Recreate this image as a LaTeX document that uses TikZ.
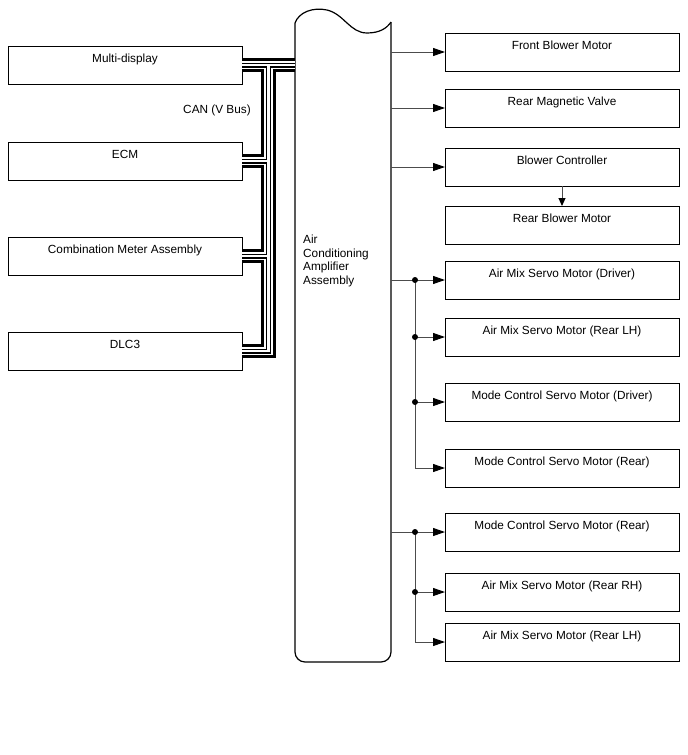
\documentclass[tikz,border=0pt]{standalone}
\usepackage{fontspec}
\setmainfont{Liberation Sans}
\usetikzlibrary{arrows.meta}
\newcommand\canbuspath[1]{%
  \draw[#1] (md.east) -- (md.east -| amp.west)
            (busTop) -- (busBot) -- (dlc.east)
            (ecm.east) -- (ecm.east -| busTop)
            (cma.east) -- (cma.east -| busTop);}
\begin{document}
\begin{tikzpicture}[x=1pt,y=-1pt,
  txt/.style={font=\fontsize{11.8}{13.8}\selectfont, inner sep=0pt},
  box/.style={draw=black, line width=1pt, minimum width=234pt, minimum height=38pt,
    inner sep=0pt, outer sep=0pt, anchor=north west, text height=16.5pt, text depth=21.5pt,
    font=\fontsize{11.8}{13.8}\selectfont},
  conn/.style={draw=black!70, line width=1pt, -{Triangle[length=12pt,width=8pt,color=black]}},
  dot/.style={fill=black}
]
\useasboundingbox (0,0) rectangle (688,755);
\fill[white] (0,0) rectangle (688,755);

% Amplifier (frame node)
\node[draw=none, minimum width=96pt, minimum height=640pt, inner sep=0pt, outer sep=0pt,
      anchor=north west] (amp) at (295,22) {};
\draw[line width=1.2pt, rounded corners=10pt]
  (295,23) -- (295,662) -- (391,662) -- (391,22);
\draw[line width=1.2pt]
  (295,23) .. controls (299,12) and (313,7) .. (327,10)
           .. controls (344,14) and (350,33) .. (367,33)
           .. controls (380,33) and (387,28) .. (391,22);
\node[txt, align=left, anchor=west] (amptxt) at (303,261)
  {Air\\Conditioning\\Amplifier\\Assembly};

% Left boxes
\node[box] (md)  at (8,46)  {Multi-display};
\node[box] (ecm) at (8,142) {ECM};
\node[box] (cma) at (8,237) {Combination Meter Assembly};
\node[box] (dlc) at (8,332) {DLC3};
\node[txt] (canlbl) at (217,110) {CAN (V Bus)};

% CAN bus
\coordinate (busTop) at (268.5,65);
\coordinate (busBot) at (268.5,351);
\canbuspath{line width=14.5pt, black}
\canbuspath{line width=8.5pt, white}
\canbuspath{line width=5pt, black}
\canbuspath{line width=2.5pt, white}

% Right boxes
\node[box] (fbm)  at (445,33)  {Front Blower Motor};
\node[box] (rmv)  at (445,89)  {Rear Magnetic Valve};
\node[box] (bc)   at (445,148) {Blower Controller};
\node[box] (rbm)  at (445,206) {Rear Blower Motor};
\node[box] (amd)  at (445,261) {Air Mix Servo Motor (Driver)};
\node[box] (amlA) at (445,318) {Air Mix Servo Motor (Rear LH)};
\node[box] (mcd)  at (445,383) {Mode Control Servo Motor (Driver)};
\node[box] (mcrA) at (445,449) {Mode Control Servo Motor (Rear)};
\node[box] (mcrB) at (445,513) {Mode Control Servo Motor (Rear)};
\node[box] (amr)  at (445,573) {Air Mix Servo Motor (Rear RH)};
\node[box] (amlB) at (445,623) {Air Mix Servo Motor (Rear LH)};

% Direct arrows
\draw[conn] (fbm.west -| amp.east) -- (fbm.west);
\draw[conn] (rmv.west -| amp.east) -- (rmv.west);
\draw[conn] (bc.west -| amp.east) -- (bc.west);
\draw[conn, -{Triangle[length=8pt,width=7pt,color=black]}] (bc.south) -- (rbm.north);

% Group A
\coordinate (jA) at ([xshift=24pt]amd.west -| amp.east);
\draw[conn] (amd.west -| amp.east) -- (amd.west);
\draw[conn] (jA) -- (jA |- mcrA.west) -- (mcrA.west);
\draw[conn] (jA |- amlA.west) -- (amlA.west);
\draw[conn] (jA |- mcd.west) -- (mcd.west);
\fill[dot] (jA) circle (3pt);
\fill[dot] (jA |- amlA.west) circle (3pt);
\fill[dot] (jA |- mcd.west) circle (3pt);

% Group B
\coordinate (jB) at ([xshift=24pt]mcrB.west -| amp.east);
\draw[conn] (mcrB.west -| amp.east) -- (mcrB.west);
\draw[conn] (jB) -- (jB |- amlB.west) -- (amlB.west);
\draw[conn] (jB |- amr.west) -- (amr.west);
\fill[dot] (jB) circle (3pt);
\fill[dot] (jB |- amr.west) circle (3pt);
\end{tikzpicture}
\end{document}
